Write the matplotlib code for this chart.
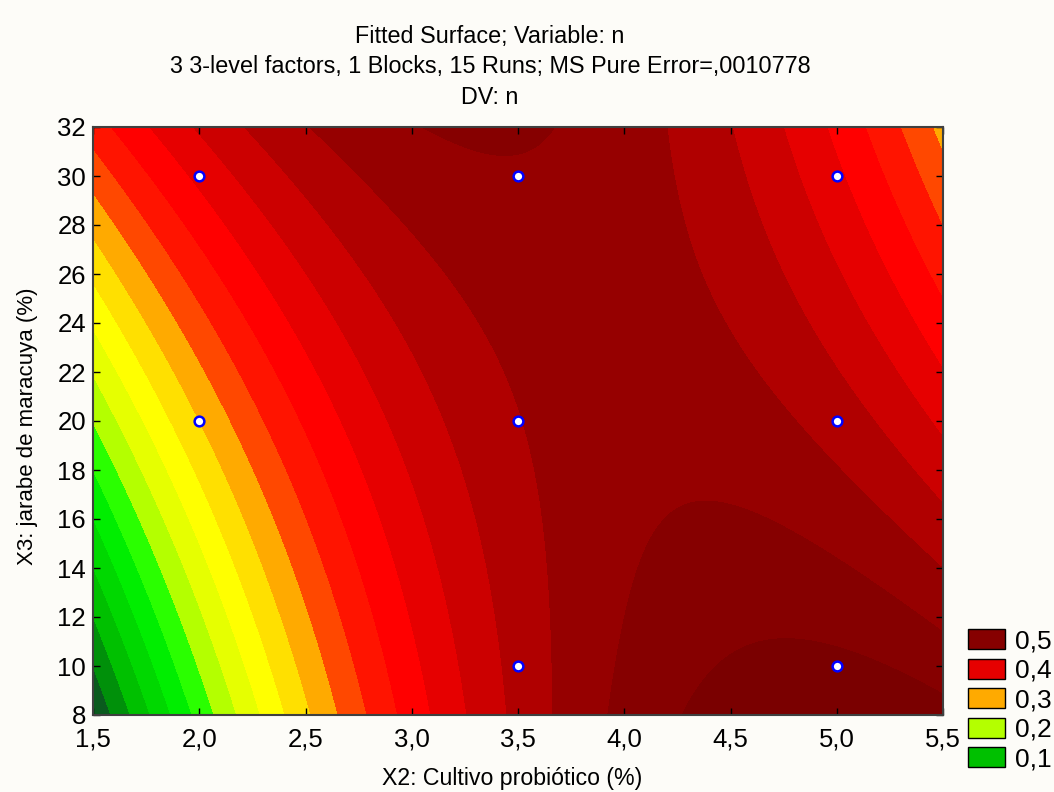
import matplotlib
matplotlib.use("Agg")
import matplotlib.pyplot as plt
import numpy as np
from matplotlib.patches import Patch

plt.rcParams['font.family'] = ['Liberation Sans', 'DejaVu Sans']

# quadratic fit of n over X2 (cultivo) and X3 (jarabe):
# n = b0 + b1*x + b2*y + b11*x^2 + b22*y^2 + b12*x*y
coef_names = ['b0', 'b1', 'b2', 'b11', 'b22', 'b12']
coef_vals = [-0.6518155, 0.451547, 0.019555, -0.041, 0.0000412, -0.0055008]

# design points shown on the plane
pts_x2 = [2.0, 2.0, 3.5, 3.5, 3.5, 5.0, 5.0, 5.0]
pts_x3 = [30, 20, 30, 20, 10, 30, 20, 10]

x_ticks = [1.5, 2.0, 2.5, 3.0, 3.5, 4.0, 4.5, 5.0, 5.5]
y_ticks = [8, 10, 12, 14, 16, 18, 20, 22, 24, 26, 28, 30, 32]

levels = np.arange(0.0, 0.5001, 0.025)
band_colors = ['#004010', '#0a5a1e', '#00900a', '#00c000', '#00d800',
               '#00ee00', '#2aff00', '#b4ff00', '#e6ff00', '#ffff00',
               '#ffe000', '#ffaa00', '#ff4800', '#ff1400', '#ff0000',
               '#e60000', '#cc0000', '#b00000', '#960000', '#860000']
over_color = '#7a0000'

legend_vals = [0.5, 0.4, 0.3, 0.2, 0.1]

c = dict(zip(coef_names, coef_vals))
xx, yy = np.meshgrid(np.linspace(1.5, 5.5, 400), np.linspace(8, 32, 400))
zz = (c['b0'] + c['b1'] * xx + c['b2'] * yy + c['b11'] * xx**2
      + c['b22'] * yy**2 + c['b12'] * xx * yy)

bg = '#fdfcf8'
fig = plt.figure(figsize=(10.54, 7.92), dpi=100, facecolor=bg)
ax = fig.add_axes([93/1054, 1 - 715/792, 850/1054, 588/792])

cs = ax.contourf(xx, yy, zz, levels=levels, colors=band_colors, extend='max')
cs.cmap.set_over(over_color)
cs.changed()

ax.plot(pts_x2, pts_x3, linestyle='none', marker='o', ms=7,
        mfc='white', mec='#0000ff', mew=1.8, zorder=5)

ax.set_xlim(1.5, 5.5)
ax.set_ylim(8, 32)
ax.set_xticks(x_ticks)
ax.set_xticklabels([f'{v:.1f}'.replace('.', ',') for v in x_ticks])
ax.set_yticks(y_ticks)
ax.set_yticklabels([str(v) for v in y_ticks])
ax.tick_params(direction='in', length=5, width=1, top=True, right=True,
               labelsize=18.5, colors='black')
ax.tick_params(axis='y', pad=5)
ax.tick_params(axis='x', pad=9)
for s in ax.spines.values():
    s.set_color('#404040')
    s.set_linewidth(1.5)

title_x = 490 / 1054
fig.text(title_x, 1 - 37/792, 'Fitted Surface; Variable: n', ha='center', va='center', fontsize=16.8)
fig.text(title_x, 1 - 67/792, '3 3-level factors, 1 Blocks, 15 Runs; MS Pure Error=,0010778',
         ha='center', va='center', fontsize=16.8)
fig.text(title_x, 1 - 97/792, 'DV: n', ha='center', va='center', fontsize=16.8)
fig.text(512/1054, 1 - 778/792, 'X2: Cultivo probiótico (%)', ha='center', va='center', fontsize=16.7)
fig.text(28/1054, 1 - 426/792, 'X3: jarabe de maracuya (%)', ha='center', va='center',
         rotation=90, fontsize=16)

handles = []
for v in legend_vals:
    k = int(round(v / 0.025)) - 1
    handles.append(Patch(facecolor=band_colors[k], edgecolor='black', linewidth=1,
                         label=f'{v:.1f}'.replace('.', ',')))
fig.legend(handles=handles, loc='upper left', bbox_to_anchor=(968/1054, 1 - 629/792),
           frameon=False, fontsize=19, handlelength=1.4, handleheight=0.8,
           labelspacing=0.2, handletextpad=0.38, borderpad=0, borderaxespad=0)

fig.savefig('out.png', dpi=100, facecolor=bg)
